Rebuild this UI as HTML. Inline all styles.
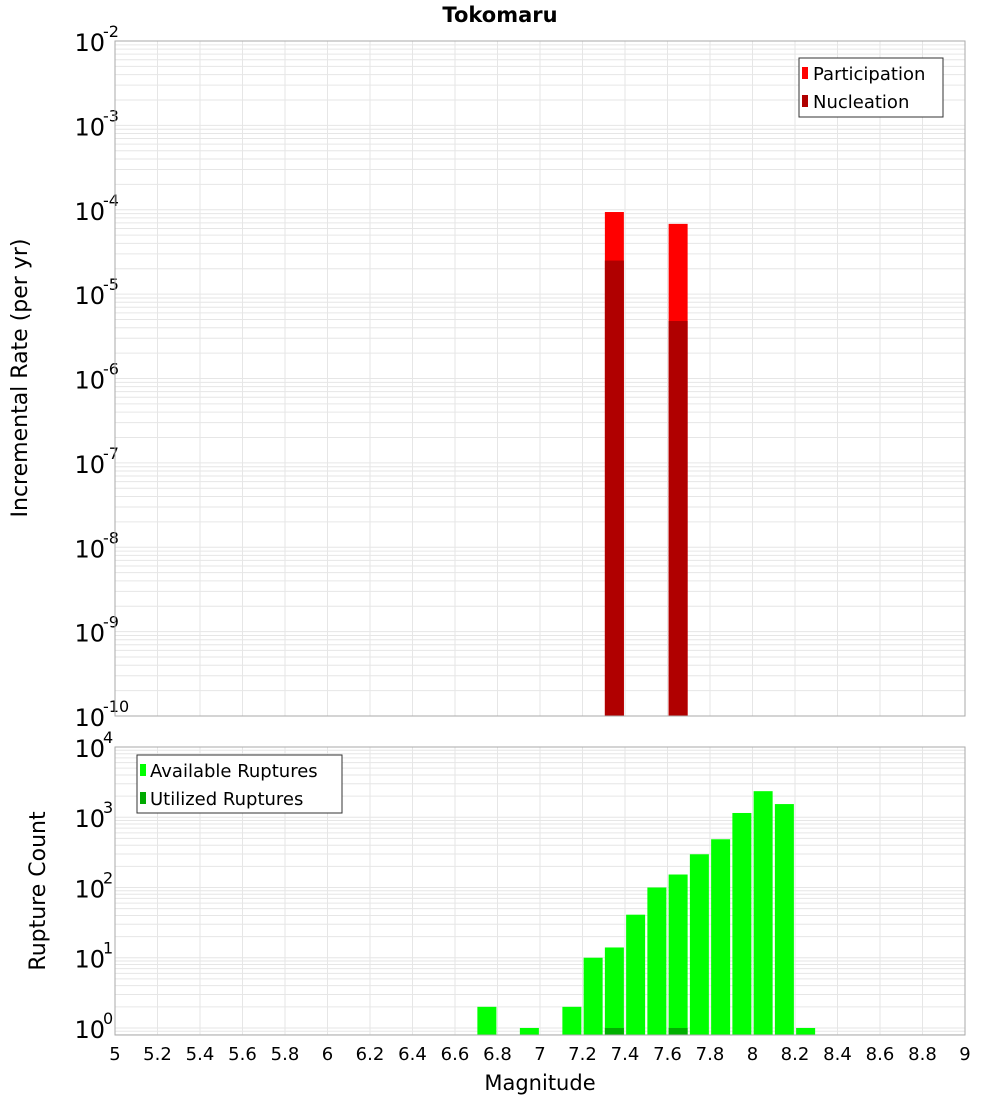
<!DOCTYPE html>
<html><head><meta charset="utf-8"><style>
body{margin:0;background:#fff;}
svg{display:block;font-family:"DejaVu Sans","Liberation Sans",sans-serif;}
</style></head><body>
<svg id="chart" width="1000" height="1100" xmlns="http://www.w3.org/2000/svg">
<text x="500" y="22" text-anchor="middle" font-size="21" font-weight="bold">Tokomaru</text>
<text transform="translate(27,378) rotate(-90)" text-anchor="middle" font-size="22">Incremental Rate (per yr)</text>
<text transform="translate(45,891) rotate(-90)" text-anchor="middle" font-size="22">Rupture Count</text>
<text x="540" y="1090" text-anchor="middle" font-size="21">Magnitude</text>
<g id="top"></g>
<g id="bot"></g>
<g>
<rect x="799" y="58" width="144" height="59" fill="#fff" stroke="#333" stroke-width="1"/>
<rect x="802" y="67" width="6" height="12" fill="#ff0000"/>
<text x="813" y="80" font-size="18">Participation</text>
<rect x="802" y="95" width="6" height="12" fill="#b00000"/>
<text x="813" y="108" font-size="18">Nucleation</text>
</g>
<g>
<rect x="137" y="755" width="205" height="58" fill="#fff" stroke="#333" stroke-width="1"/>
<rect x="140" y="764" width="6" height="12" fill="#00ff00"/>
<text x="150" y="777" font-size="18">Available Ruptures</text>
<rect x="140" y="792" width="6" height="12" fill="#00aa00"/>
<text x="150" y="805" font-size="18">Utilized Ruptures</text>
</g>
</svg>
<script>
const xTicks=["5","5.2","5.4","5.6","5.8","6","6.2","6.4","6.6","6.8","7","7.2","7.4","7.6","7.8","8","8.2","8.4","8.6","8.8","9"];
const rateMags=[7.35,7.65];
const participation=[9.4e-5,6.8e-5];
const nucleation=[2.5e-5,4.8e-6];
const countMags=[6.75,6.95,7.15,7.25,7.35,7.45,7.55,7.65,7.75,7.85,7.95,8.05,8.15,8.25];
const available=[2,1,2,10,14,41,100,153,297,486,1150,2350,1540,1];
const utilizedMags=[7.35,7.65];
const utilized=[1,1];
const topExp=[-2,-3,-4,-5,-6,-7,-8,-9,-10];
const botExp=[4,3,2,1,0];

const NS="http://www.w3.org/2000/svg";
const X0=115,X1=965;
const xs=m=>X0+(m-5)/4*(X1-X0);
function mk(p,tag,a){const e=document.createElementNS(NS,tag);for(const k in a)e.setAttribute(k,a[k]);p.appendChild(e);return e;}
function plot(g,top,bot,lmax,lmin,exps){
  const ys=v=>top+(lmax-Math.log10(v))/(lmax-lmin)*(bot-top);
  mk(g,'rect',{x:X0,y:top,width:X1-X0,height:bot-top,fill:'#fff'});
  for(let d=Math.floor(lmin);d<lmax;d++)for(let k=1;k<10;k++){
    const v=k*Math.pow(10,d);const l=Math.log10(v);if(l<lmin||l>lmax)continue;
    const y=ys(v);const ln=mk(g,'line',{x1:X0,x2:X1,y1:y,y2:y,stroke:'#e6e6e6','stroke-width':1});
    
  }
  xTicks.forEach(t=>{const x=xs(+t);const ln=mk(g,'line',{x1:x,x2:x,y1:top,y2:bot,stroke:'#e6e6e6','stroke-width':1});
    });
  exps.forEach(e=>{const y=ys(Math.pow(10,e));
    const t=mk(g,'text',{x:105,y:y+10,'text-anchor':'end','font-size':24});
    
    t.textContent='10';
    const s=mk(g,'text',{x:103,y:y-4,'font-size':16});s.textContent=String(e);
    });
  return ys;
}
const tg=document.getElementById('top'),bg=document.getElementById('bot');
const yt=plot(tg,41,716,-2,-10,topExp);
const yb=plot(bg,747,1035,4,-0.1,botExp);
rateMags.forEach((m,i)=>{
  const x=xs(m)-9.5;
  const r=mk(tg,'rect',{x:x,y:yt(participation[i]),width:19,height:716-yt(participation[i]),fill:'#ff0000'});
  
  const n=mk(tg,'rect',{x:x,y:yt(nucleation[i]),width:19,height:716-yt(nucleation[i]),fill:'#b00000'});
  
});
countMags.forEach((m,i)=>{
  const x=xs(m)-9.5;const y=yb(available[i]);
  const r=mk(bg,'rect',{x:x,y:y,width:19,height:1035-y,fill:'#00ff00'});
  
});
utilizedMags.forEach((m,i)=>{
  const x=xs(m)-9.5;const y=yb(utilized[i]);
  const r=mk(bg,'rect',{x:x,y:y,width:19,height:1035-y,fill:'#00b000'});
  
});
[[tg,41,716],[bg,747,1035]].forEach(([g,t,b])=>{
  const f=mk(g,'rect',{x:X0,y:t,width:X1-X0,height:b-t,fill:'none',stroke:'#aaa','stroke-width':1});
  
});
xTicks.forEach(t=>{
  const e=mk(bg,'text',{x:xs(+t),y:1060,'text-anchor':'middle','font-size':18});
  
  e.textContent=t;
});
</script>
</body></html>
